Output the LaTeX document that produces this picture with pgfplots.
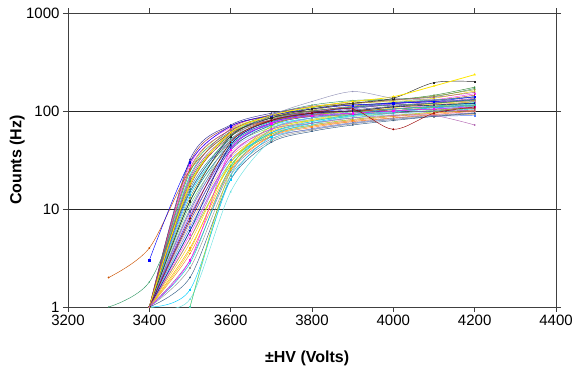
\documentclass[border=0pt]{standalone}
\usepackage{pgfplots}
\pgfplotsset{compat=1.18}
\usepackage{fontspec}
\setmainfont{Liberation Sans}
\definecolor{c1}{HTML}{000080}
\definecolor{c2}{HTML}{FF00FF}
\definecolor{c3}{HTML}{E6D800}
\definecolor{c4}{HTML}{00CCCC}
\definecolor{c5}{HTML}{800080}
\definecolor{c6}{HTML}{800000}
\definecolor{c7}{HTML}{008080}
\definecolor{c8}{HTML}{0000FF}
\definecolor{c9}{HTML}{00CCFF}
\definecolor{c10}{HTML}{66E0E0}
\definecolor{c11}{HTML}{66CC66}
\definecolor{c12}{HTML}{99CCFF}
\definecolor{c13}{HTML}{FF99CC}
\definecolor{c14}{HTML}{CC99FF}
\definecolor{c15}{HTML}{E8B070}
\definecolor{c16}{HTML}{3366FF}
\definecolor{c17}{HTML}{33CCCC}
\definecolor{c18}{HTML}{99CC00}
\definecolor{c19}{HTML}{FFCC00}
\definecolor{c20}{HTML}{FF9900}
\definecolor{c21}{HTML}{FF6600}
\definecolor{c22}{HTML}{666699}
\definecolor{c23}{HTML}{969696}
\definecolor{c24}{HTML}{003366}
\definecolor{c25}{HTML}{339966}
\definecolor{c26}{HTML}{006600}
\definecolor{c27}{HTML}{808000}
\definecolor{c28}{HTML}{993300}
\definecolor{c29}{HTML}{993366}
\definecolor{c30}{HTML}{333399}
\definecolor{frame}{HTML}{404040}
\pgfplotscreateplotcyclelist{excel}{
{c1!80!white,mark=diamond*},{c2!80!white,mark=square*},{c3,mark=triangle*},{c4,mark=x},{c5!80!white,mark=asterisk},
{c6!80!white,mark=*},{c7!85!white,mark=+},{c8!80!white,mark=diamond*},{c9,mark=square*},{c10,mark=triangle*},
{c11,mark=x},{c12,mark=asterisk},{c13,mark=*},{c14,mark=+},{c15,mark=diamond*},
{c16!85!white,mark=square*},{c17,mark=triangle*},{c18,mark=x},{c19,mark=asterisk},{c20,mark=*},
{c21!85!white,mark=+},{c22!85!white,mark=diamond*},{c23,mark=square*},{c24!80!white,mark=triangle*},{c25,mark=x},
{c26!80!white,mark=asterisk},{c27!85!white,mark=*},{c28!85!white,mark=+},{c29!85!white,mark=diamond*},{c30!80!white,mark=square*}}
\begin{document}
\begin{tikzpicture}
\begin{axis}[
  scale only axis, width=488pt, height=294pt,
  ymode=log, xmin=3200, xmax=4400, ymin=1, ymax=1000,
  xtick={3200,3400,...,4400},
  ytick={1,10,100,1000}, yticklabels={1,10,100,1000},
  minor ytick={}, yminorticks=false,
  tick align=outside, major tick length=5pt,
  ymajorgrids, major grid style={black!85, line width=0.8pt},
  axis line style={frame, line width=0.9pt},
  every tick/.style={frame, line width=0.8pt},
  tick label style={font=\fontsize{15}{17}\selectfont},
  /pgf/number format/assume math mode=true,
  /pgf/number format/1000 sep={},
  xlabel={\textbf{±HV (Volts)}}, ylabel={\textbf{Counts (Hz)}},
  label style={font=\fontsize{16}{18}\selectfont},
  xlabel style={at={(axis description cs:0.49,-0.175)}, anchor=center},
  ylabel style={at={(axis description cs:-0.104,0.5)}, anchor=center},
  cycle list name=excel,
  every axis plot/.append style={smooth, line width=0.45pt, mark size=0.7pt, mark options={solid}},
]
\addplot+[] coordinates {(3400,1)(3500,32)(3600,72)(3700,95)(3800,110)(3900,115)(4000,120)(4100,125)(4200,130)};
\addplot+[] coordinates {(3400,1)(3500,28)(3600,68)(3700,90)(3800,100)(3900,110)(4000,118)(4100,130)(4200,150)};
\addplot+[] coordinates {(3400,1)(3500,25)(3600,65)(3700,88)(3800,105)(3900,120)(4000,125)(4100,135)(4200,160)};
\addplot+[] coordinates {(3400,1)(3500,22)(3600,60)(3700,85)(3800,95)(3900,100)(4000,105)(4100,110)(4200,118)};
\addplot+[] coordinates {(3400,1)(3500,20)(3600,58)(3700,82)(3800,98)(3900,108)(4000,115)(4100,122)(4200,135)};
\addplot+[] coordinates {(3400,1)(3500,18)(3600,55)(3700,80)(3800,92)(3900,100)(4000,110)(4100,120)(4200,128)};
\addplot+[] coordinates {(3400,1)(3500,16)(3600,52)(3700,78)(3800,90)(3900,98)(4000,105)(4100,112)(4200,120)};
\addplot+[] coordinates {(3400,1)(3500,15)(3600,50)(3700,75)(3800,88)(3900,95)(4000,100)(4100,108)(4200,112)};
\addplot+[] coordinates {(3400,1)(3500,14)(3600,48)(3700,72)(3800,85)(3900,92)(4000,98)(4100,105)(4200,110)};
\addplot+[] coordinates {(3400,1)(3500,12)(3600,45)(3700,70)(3800,82)(3900,90)(4000,96)(4100,100)(4200,105)};
\addplot+[] coordinates {(3400,1)(3500,11)(3600,42)(3700,68)(3800,80)(3900,88)(4000,95)(4100,102)(4200,108)};
\addplot+[] coordinates {(3400,1)(3500,10)(3600,40)(3700,65)(3800,78)(3900,85)(4000,92)(4100,98)(4200,100)};
\addplot+[] coordinates {(3400,1)(3500,9)(3600,38)(3700,62)(3800,75)(3900,82)(4000,90)(4100,95)(4200,98)};
\addplot+[] coordinates {(3400,1)(3500,8)(3600,36)(3700,60)(3800,72)(3900,80)(4000,88)(4100,92)(4200,95)};
\addplot+[] coordinates {(3400,1)(3500,7)(3600,34)(3700,58)(3800,70)(3900,78)(4000,85)(4100,90)(4200,92)};
\addplot+[] coordinates {(3400,1)(3500,6.5)(3600,32)(3700,55)(3800,65)(3900,75)(4000,82)(4100,88)(4200,90)};
\addplot+[] coordinates {(3400,1)(3500,6)(3600,30)(3700,60)(3800,75)(3900,85)(4000,95)(4100,100)(4200,105)};
\addplot+[] coordinates {(3400,1)(3500,5)(3600,28)(3700,58)(3800,72)(3900,82)(4000,90)(4100,98)(4200,115)};
\addplot+[] coordinates {(3400,1)(3500,4.5)(3600,30)(3700,62)(3800,80)(3900,92)(4000,100)(4100,110)(4200,125)};
\addplot+[] coordinates {(3400,1)(3500,4)(3600,26)(3700,56)(3800,70)(3900,80)(4000,88)(4100,95)(4200,102)};
\addplot+[] coordinates {(3400,1)(3500,3.5)(3600,25)(3700,55)(3800,68)(3900,78)(4000,85)(4100,92)(4200,100)};
\addplot+[] coordinates {(3400,1)(3500,3)(3600,24)(3700,52)(3800,66)(3900,76)(4000,84)(4100,90)(4200,96)};
\addplot+[] coordinates {(3400,1)(3500,2.5)(3600,22)(3700,50)(3800,64)(3900,74)(4000,82)(4100,88)(4200,94)};
\addplot+[] coordinates {(3400,1)(3500,2)(3600,20)(3700,48)(3800,62)(3900,72)(4000,80)(4100,88)(4200,95)};
\addplot+[] coordinates {(3400,1)(3500,24)(3600,62)(3700,92)(3800,115)(3900,128)(4000,132)(4100,140)(4200,170)};
\addplot+[] coordinates {(3400,1)(3500,19)(3600,57)(3700,88)(3800,108)(3900,125)(4000,130)(4100,145)(4200,175)};
\addplot+[] coordinates {(3400,1)(3500,13)(3600,50)(3700,82)(3800,102)(3900,118)(4000,128)(4100,142)(4200,165)};
\addplot+[] coordinates {(3400,1)(3500,17)(3600,62)(3700,85)(3800,100)(3900,112)(4000,122)(4100,128)(4200,145)};
\addplot+[] coordinates {(3400,1)(3500,21)(3600,66)(3700,92)(3800,112)(3900,120)(4000,130)(4100,138)(4200,155)};
\addplot+[] coordinates {(3400,1)(3500,9.5)(3600,44)(3700,74)(3800,92)(3900,105)(4000,118)(4100,128)(4200,140)};
\addplot+[] coordinates {(3400,1)(3500,7.5)(3600,40)(3700,72)(3800,90)(3900,102)(4000,112)(4100,120)(4200,132)};
\addplot+[] coordinates {(3400,1)(3500,5.5)(3600,35)(3700,66)(3800,85)(3900,95)(4000,105)(4100,115)(4200,125)};
\addplot+[] coordinates {(3400,1)(3500,3.8)(3600,30)(3700,64)(3800,82)(3900,95)(4000,108)(4100,118)(4200,128)};
\addplot+[] coordinates {(3400,1)(3500,2.8)(3600,27)(3700,60)(3800,78)(3900,92)(4000,104)(4100,112)(4200,122)};
\addplot+[] coordinates {(3400,1)(3500,26)(3600,64)(3700,80)(3800,88)(3900,92)(4000,96)(4100,100)(4200,102)};
\addplot+[] coordinates {(3400,1)(3500,30)(3600,70)(3700,88)(3800,96)(3900,100)(4000,102)(4100,104)(4200,106)};
\addplot+[] coordinates {(3400,1)(3500,12)(3600,46)(3700,78)(3800,95)(3900,110)(4000,122)(4100,130)(4200,138)};
\addplot+[] coordinates {(3400,1)(3500,8.5)(3600,42)(3700,76)(3800,94)(3900,108)(4000,120)(4100,125)(4200,130)};
\addplot+[] coordinates {(3400,1)(3500,1.5)(3600,20)(3700,55)(3800,75)(3900,90)(4000,100)(4100,108)(4200,115)};
\addplot+[] coordinates {(3400,1)(3500,1.2)(3600,15)(3700,50)(3800,72)(3900,88)(4000,98)(4100,105)(4200,112)};
% distinctive series
\addplot[color=c21!80!black, mark=*] coordinates {(3300,2)(3400,4)(3500,25)(3600,60)(3700,80)(3800,95)(3900,100)(4000,105)(4100,110)(4200,115)};
\addplot[color=c25, mark=x] coordinates {(3300,1)(3400,1.8)(3500,15)(3600,55)(3700,85)(3800,100)(3900,110)(4000,115)(4100,120)(4200,130)};
\addplot[color=c8, mark=square*] coordinates {(3400,3)(3500,30)(3600,70)(3700,90)(3800,105)(3900,115)(4000,120)(4100,125)(4200,140)};
\addplot[color=c18!70!yellow, mark=triangle*] coordinates {(3500,1)(3600,25)(3700,70)(3800,90)(3900,100)(4000,110)(4100,115)(4200,125)};
\addplot[color=c17, mark=*] coordinates {(3500,1)(3600,22)(3700,65)(3800,85)(3900,95)(4000,105)(4100,110)(4200,115)};
\addplot[color=c2, mark=square*] coordinates {(3400,1)(3500,3)(3600,40)(3700,75)(3800,90)(3900,95)(4000,100)(4100,105)(4200,110)};
\addplot[color=c1, mark=diamond*] coordinates {(3400,1)(3500,6)(3600,45)(3700,80)(3800,95)(3900,100)(4000,110)(4100,115)(4200,120)};
\addplot[color=black!85, mark=square*] coordinates {(3400,1)(3500,12)(3600,55)(3700,85)(3800,105)(3900,120)(4000,135)(4100,195)(4200,200)};
\addplot[color=yellow!90!orange, mark=triangle*, line width=0.8pt] coordinates {(3400,1)(3500,18)(3600,60)(3700,90)(3800,110)(3900,125)(4000,140)(4100,180)(4200,235)};
\addplot[color=c22!70!white, mark=x] coordinates {(3400,1)(3500,10)(3600,50)(3700,90)(3800,125)(3900,158)(4000,135)(4100,130)(4200,125)};
\addplot[color=c6!80!red, mark=*] coordinates {(3400,1)(3500,8)(3600,48)(3700,80)(3800,95)(3900,105)(4000,65)(4100,95)(4200,110)};
\addplot[color=violet!60!white, mark=*] coordinates {(3400,1)(3500,5)(3600,35)(3700,65)(3800,75)(3900,85)(4000,90)(4100,90)(4200,72)};
\end{axis}
\pgfresetboundingbox
\path ([shift={(-68pt,-61pt)}]current axis.south west) rectangle ([shift={(19pt,13pt)}]current axis.north east);
\end{tikzpicture}
\end{document}
